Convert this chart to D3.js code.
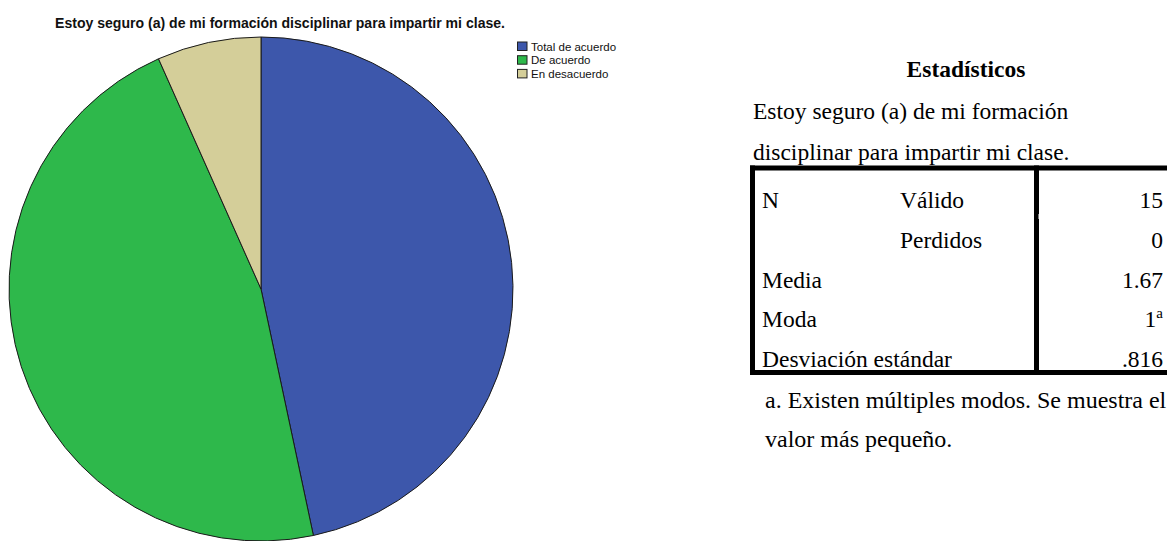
<!DOCTYPE html>
<html><head><meta charset="utf-8">
<script src="https://cdn.jsdelivr.net/npm/d3@7"></script>
<style>html,body{margin:0;padding:0;background:#fff;}svg{display:block;}</style>
</head><body>
<svg id="c" width="1167" height="541"></svg>
<script>
const categories = ["Total de acuerdo", "De acuerdo", "En desacuerdo"];
const counts = [7, 7, 1];
const colors = ["#3d57ab", "#2eb84b", "#d4ce99"];
const chartTitle = "Estoy seguro (a) de mi formación disciplinar para impartir mi clase.";
const tableTitle = "Estadísticos";
const tableCaption = ["Estoy seguro (a) de mi formación", "disciplinar para impartir mi clase."];
const rowLabels1 = ["N", "", "Media", "Moda", "Desviación estándar"];
const rowLabels2 = ["Válido", "Perdidos", "", "", ""];
const rowValues = ["15", "0", "1.67", "1", ".816"];
const rowSup = ["", "", "", "a", ""];
const footnote = ["a. Existen múltiples modos. Se muestra el", "valor más pequeño."];

const svg = d3.select("#c");
const cx = 261, cy = 289, r = 252;

svg.append("text").attr("x", 55).attr("y", 28)
  .attr("font-family", "Liberation Sans, Arial, sans-serif").attr("font-weight", "bold")
  .attr("font-size", 15.5).attr("fill", "#111")
  .attr("textLength", 450).attr("lengthAdjust", "spacingAndGlyphs").text(chartTitle);

const pie = d3.pie().sort(null).value(d => d)(counts);
const arc = d3.arc().innerRadius(0).outerRadius(r);
svg.append("g").attr("transform", `translate(${cx},${cy})`)
  .selectAll("path").data(pie).join("path")
  .attr("d", arc).attr("fill", (d, i) => colors[i])
  .attr("stroke", "#1a1a1a").attr("stroke-width", 1);

const lg = svg.append("g").attr("transform", "translate(517,41.5)");
const li = lg.selectAll("g").data(categories).join("g")
  .attr("transform", (d, i) => `translate(0,${i * 13.7})`);
li.append("rect").attr("x", 0.5).attr("y", 0.5).attr("width", 9.5).attr("height", 8.5)
  .attr("fill", (d, i) => colors[i]).attr("stroke", "#222").attr("stroke-width", 1);
li.append("text").attr("x", 14).attr("y", 9)
  .attr("font-family", "Liberation Sans, Arial, sans-serif").attr("font-size", 11.5)
  .attr("fill", "#111").text(d => d);

// Statistics table
const serif = "Liberation Serif, Times New Roman, serif";
const fs = 23.5;
svg.append("text").attr("x", 966).attr("y", 77).attr("text-anchor", "middle")
  .attr("font-family", serif).attr("font-weight", "bold").attr("font-size", fs).text(tableTitle);
svg.selectAll("text.cap").data(tableCaption).join("text").attr("class", "cap")
  .attr("x", 753).attr("y", (d, i) => 119 + i * 41)
  .attr("font-family", serif).attr("font-size", fs).text(d => d);

const rowY = d3.scalePoint().domain(d3.range(rowValues.length)).range([208, 367]);
const rows = svg.append("g");
rows.selectAll("text.l1").data(rowLabels1).join("text").attr("class", "l1")
  .attr("x", 762).attr("y", (d, i) => rowY(i))
  .attr("font-family", serif).attr("font-size", fs).text(d => d);
rows.selectAll("text.l2").data(rowLabels2).join("text").attr("class", "l2")
  .attr("x", 900).attr("y", (d, i) => rowY(i))
  .attr("font-family", serif).attr("font-size", fs).text(d => d);
const vt = rows.selectAll("text.v").data(rowValues).join("text").attr("class", "v")
  .attr("x", 1163).attr("y", (d, i) => rowY(i)).attr("text-anchor", "end")
  .attr("font-family", serif).attr("font-size", fs);
vt.append("tspan").text(d => d);
vt.append("tspan").attr("font-size", 15).attr("dy", (d, i) => rowSup[i] ? -9 : 0)
  .text((d, i) => rowSup[i]);

const bw = 5;
const tb = svg.append("g").attr("stroke", "#000").attr("stroke-width", bw).attr("fill", "none");
tb.append("line").attr("x1", 750).attr("x2", 1167).attr("y1", 168).attr("y2", 168);
tb.append("line").attr("x1", 750).attr("x2", 1167).attr("y1", 372.5).attr("y2", 372.5);
tb.append("line").attr("x1", 752.5).attr("x2", 752.5).attr("y1", 165.5).attr("y2", 375);
tb.append("line").attr("x1", 1036.5).attr("x2", 1036.5).attr("y1", 165.5).attr("y2", 375);
svg.append("rect").attr("x", 1038.5).attr("y", 214).attr("width", 1.5).attr("height", 5).attr("fill", "#fff");

svg.selectAll("text.fn").data(footnote).join("text").attr("class", "fn")
  .attr("x", 765).attr("y", (d, i) => 408 + i * 39)
  .attr("font-family", serif).attr("font-size", 24).text(d => d);
</script>
</body></html>
